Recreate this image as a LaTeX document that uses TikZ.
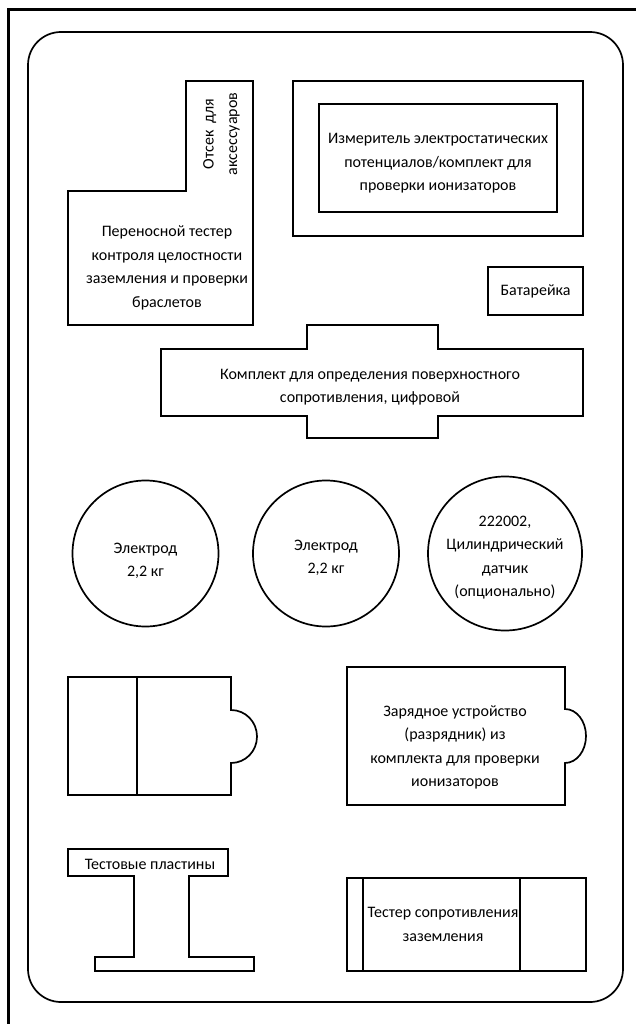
\documentclass[tikz,border=0pt]{standalone}
\usepackage{fontspec}
\setmainfont{Carlito}
\begin{document}
\begin{tikzpicture}[x=1pt,y=-1pt,
  shp/.style={draw=black,line width=1.7pt,line join=miter},
  txt/.style={align=center,inner sep=0pt,font=\fontsize{16}{23.5}\selectfont},
  ring/.style={circle,draw=black,line width=1.7pt,inner sep=0pt}]
\useasboundingbox (0,0) rectangle (636,1024);
% outer frame
\draw[line width=2.2pt] (8.5,1024) -- (8.5,9.5) -- (636,9.5);
% rounded tray
\draw[line width=1.7pt,rounded corners=33pt] (28,32) rectangle (623,1002);
% L-shaped tester compartment
\draw[shp] (68,191) -- (186,191) -- (186,81) -- (253,81) -- (253,325) -- (68,325) -- cycle;
\node[txt,rotate=90] (acc) at (221.5,134) {Отсек\ \ для\\аксессуаров};
\node[txt] (port) at (167,268) {Переносной тестер\\контроля целостности\\заземления и проверки\\браслетов};
% meter
\draw[shp] (293,81) rectangle (583,236);
\draw[shp] (319,104) rectangle (557,212);
\node[txt] (meter) at (438,163.5) {Измеритель электростатических\\потенциалов/комплект для\\проверки ионизаторов};
% battery
\draw[shp] (488,267) rectangle (583,315);
\node[txt] (bat) at (535.5,291) {Батарейка};
% cross-shaped kit
\draw[shp] (161,349) -- (307,349) -- (307,325) -- (438,325) -- (438,349) -- (583,349) -- (583,416) -- (438,416) -- (438,438) -- (307,438) -- (307,416) -- (161,416) -- cycle;
\node[txt] (kit) at (370,387) {Комплект для определения поверхностного\\сопротивления, цифровой};
% electrodes
\node[ring,minimum size=146pt] (e1) at (145.5,553.5) {};
\node[ring,minimum size=146pt] (e2) at (326,553.5) {};
\node[ring,minimum size=154pt] (e3) at (505,553.5) {};
\node[txt] (t1) at (145.5,561) {Электрод\\2,2 кг};
\node[txt] (t2) at (326,558) {Электрод\\2,2 кг};
\node[txt] (t3) at (505,557.5) {222002,\\Цилиндрический\\датчик\\(опционально)};
% left bump shape
\draw[shp] (68,677) -- (231,677) -- (231,710) .. controls (245.6,710) and (257,721.9) .. (257,736.5) .. controls (257,751.1) and (245.6,763) .. (231,763) -- (231,795) -- (68,795) -- cycle;
\draw[shp] (137,677) -- (137,795);
% charger
\draw[shp] (347,667) -- (565,667) -- (565,709) .. controls (576.6,709) and (586,721.1) .. (586,736) .. controls (586,750.9) and (576.6,763) .. (565,763) -- (565,805) -- (347,805) -- cycle;
\node[txt] (chg) at (455,747.5) {Зарядное устройство\\(разрядник) из\\комплекта для проверки\\ионизаторов};
% test plates
\draw[shp] (68,849) -- (228,849) -- (228,876) -- (189,876) -- (189,957) -- (254,957) -- (254,971) -- (95,971) -- (95,957) -- (134,957) -- (134,876) -- (68,876) -- cycle;
\node[txt] (plates) at (150,864) {Тестовые пластины};
% resistance tester
\draw[shp] (347,878) rectangle (586,971);
\draw[shp] (363,878) -- (363,971);
\draw[shp] (520,878) -- (520,971);
\node[txt] (gnd) at (443,924.5) {Тестер сопротивления\\заземления};
\end{tikzpicture}
\end{document}
